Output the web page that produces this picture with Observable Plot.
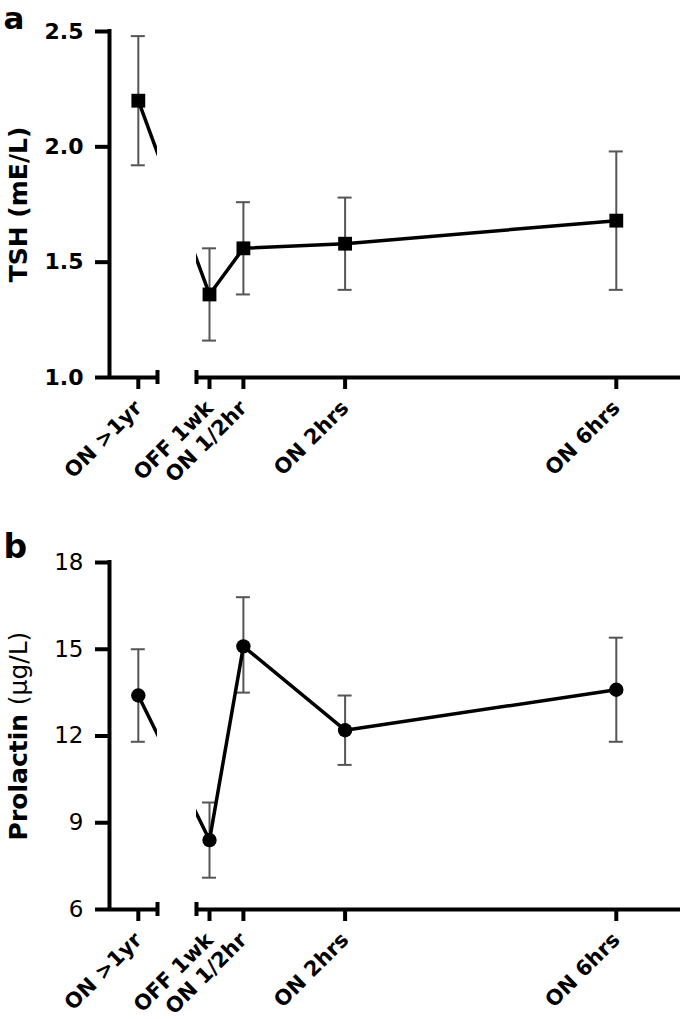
<!DOCTYPE html>
<html>
<head>
<meta charset="utf-8">
<script src="https://cdn.jsdelivr.net/npm/d3@7"></script>
<script src="https://cdn.jsdelivr.net/npm/@observablehq/plot@0.6"></script>
<style>
  html, body { margin: 0; padding: 0; background: #fff; }
  #chart svg { display: block; }
  svg.pa g[aria-label="y-axis tick label"], svg.pa g[aria-label="y-axis tick label"] text { font-size: 22px !important; font-weight: bold !important; }
  svg.pb g[aria-label="y-axis tick label"], svg.pb g[aria-label="y-axis tick label"] text { font-size: 23px !important; font-weight: normal !important; }
</style>
</head>
<body>
<div id="chart"></div>
<script>
// ---- data ----
const xLabels = ["ON >1yr", "OFF 1wk", "ON 1/2hr", "ON 2hrs", "ON 6hrs"];
// time since switching ON (hours); "ON >1yr" sits left of the axis break
const xHours = [-1.05, 0, 0.5, 2, 6];

const tshMean = [2.20, 1.36, 1.56, 1.58, 1.68];
const tshLow  = [1.92, 1.16, 1.36, 1.38, 1.38];
const tshHigh = [2.48, 1.56, 1.76, 1.78, 1.98];
const tshTicks = [1.0, 1.5, 2.0, 2.5];

const prlMean = [13.4, 8.4, 15.1, 12.2, 13.6];
const prlLow  = [11.8, 7.1, 13.5, 11.0, 11.8];
const prlHigh = [15.0, 9.7, 16.8, 13.4, 15.4];
const prlTicks = [6, 9, 12, 15, 18];

// axis layout (in hours)
const xDomain = [-1.475, 6.947];
const breakL = -0.767, breakR = -0.192;

function panel({cls, mean, low, high, ticks, yDomain, yLabel, letter, letterBase, letterSize, symbol, r, height, marginTop, marginBottom, tickFmt}) {
  const rows = xHours.map((x, i) => ({x, label: xLabels[i], m: mean[i], lo: low[i], hi: high[i]}));
  const y0 = yDomain[0];
  return Plot.plot({
    className: cls,
    width: 689,
    height,
    marginLeft: 109,
    marginRight: 9,
    marginTop,
    marginBottom,
    style: {fontFamily: "DejaVu Sans", fontSize: "20px", fontWeight: "bold", color: "#000", background: "#fff", overflow: "visible"},
    x: {domain: xDomain, axis: null},
    y: {domain: yDomain, axis: null},
    marks: [
      // error bars
      Plot.ruleX(rows, {x: "x", y1: "lo", y2: "hi", stroke: "#555", strokeWidth: 2}),
      Plot.ruleY(rows, {y: "lo", x1: "x", x2: "x", insetLeft: -7, insetRight: -7, stroke: "#555", strokeWidth: 2}),
      Plot.ruleY(rows, {y: "hi", x1: "x", x2: "x", insetLeft: -7, insetRight: -7, stroke: "#555", strokeWidth: 2}),
      // mean line
      Plot.line(rows, {x: "x", y: "m", stroke: "#000", strokeWidth: 3.5}),
      // axis break mask
      Plot.rect([0], {x1: breakL, x2: breakR, y1: yDomain[0], y2: yDomain[1], fill: "#fff", insetTop: -20}),
      // markers
      Plot.dot(rows, {x: "x", y: "m", symbol, r, fill: "#000", stroke: null}),
      // y axis line
      Plot.ruleX([xDomain[0]], {stroke: "#000", strokeWidth: 4, strokeLinecap: "square"}),
      // broken x axis line
      Plot.ruleY([y0], {x1: xDomain[0], x2: breakL, stroke: "#000", strokeWidth: 4}),
      Plot.ruleY([y0], {x1: breakR, x2: xDomain[1], stroke: "#000", strokeWidth: 4}),
      // break end caps
      Plot.ruleX([breakL, breakR], {y1: y0, y2: y0, insetTop: -7, insetBottom: -7, stroke: "#000", strokeWidth: 4}),
      // y axis
      Plot.axisY({ticks, tickSize: 14, tickPadding: 12, strokeWidth: 4, tickFormat: tickFmt, label: null}),
      // x axis
      Plot.axisX({ticks: xHours, tickSize: 12, tickPadding: 15, strokeWidth: 4, tickRotate: -45,
        fontSize: 21, fontWeight: "bold", tickFormat: d => xLabels[xHours.indexOf(d)], label: null}),
      // y title
      Plot.text([yLabel], {frameAnchor: "left", rotate: -90, dx: -91, textAnchor: "middle", fontSize: 25, fontWeight: "bold"}),
      // panel letter
      Plot.text([letter], {frameAnchor: "top-left", dx: -106, dy: letterBase - marginTop, textAnchor: "start", lineAnchor: "bottom", fontSize: letterSize, fontWeight: "bold"})
    ]
  });
}

const a = panel({cls: "pa", mean: tshMean, low: tshLow, high: tshHigh, ticks: tshTicks, yDomain: [1.0, 2.5],
  yLabel: "TSH (mE/L)", letter: "a", letterBase: 28, letterSize: 31, symbol: "square", r: 7.8, height: 509, marginTop: 31, marginBottom: 132,
  tickFmt: d3.format(".1f")});
const b = panel({cls: "pb", mean: prlMean, low: prlLow, high: prlHigh, ticks: prlTicks, yDomain: [6, 18],
  yLabel: "Prolactin (μg/L)", letter: "b", letterBase: 48, letterSize: 33, symbol: "circle", r: 7.2, height: 510, marginTop: 53, marginBottom: 110,
  tickFmt: d3.format("d")});

// mixed weight for the prolactin unit
d3.select(b).selectAll("text").filter(function() { return this.textContent === "Prolactin (μg/L)"; })
  .each(function() {
    const t = d3.select(this);
    t.text(null);
    t.append("tspan").text("Prolactin ");
    t.append("tspan").attr("font-weight", "normal").text("(μg/L)");
  });

document.getElementById("chart").append(a, b);
</script>
</body>
</html>
